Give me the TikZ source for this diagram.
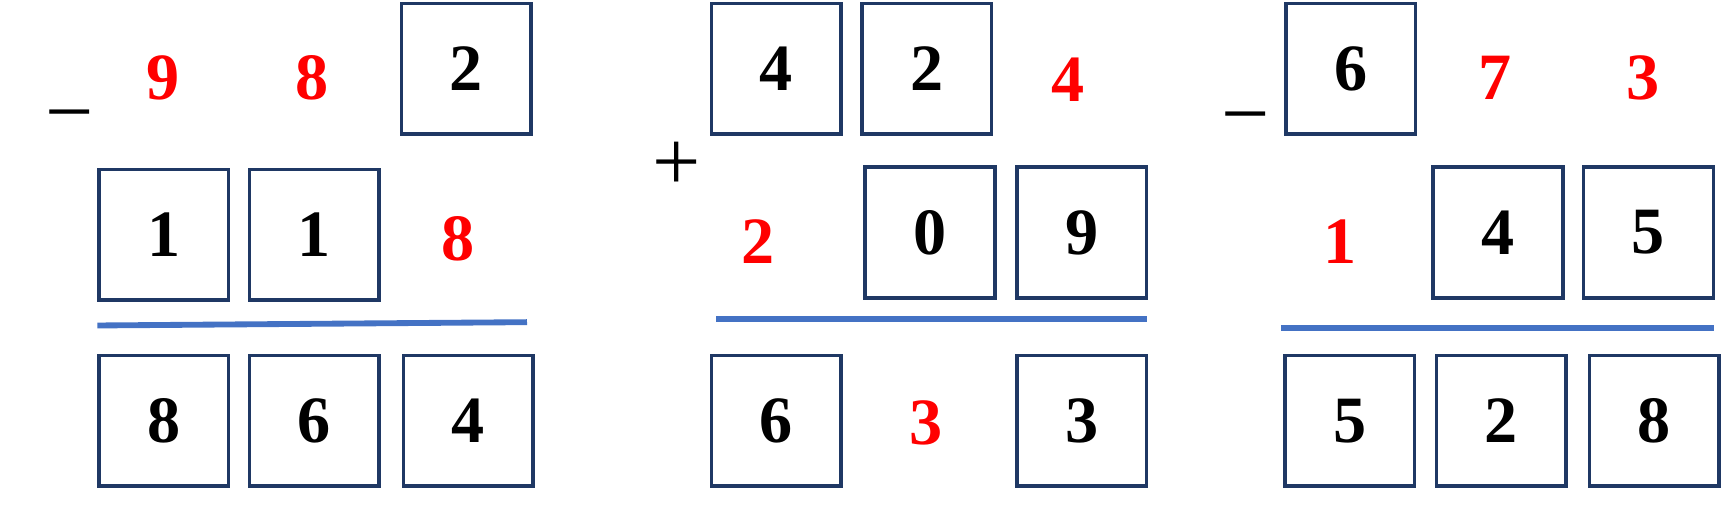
\documentclass[tikz,border=0pt]{standalone}
\usepackage{fontspec}
\setmainfont{Liberation Serif}
\definecolor{navy}{HTML}{1F3864}
\definecolor{bl}{HTML}{4472C4}
\begin{document}
\begin{tikzpicture}[x=0.01cm,y=-0.01cm,
  dbox/.style={draw=navy,line width=0.9pt,minimum width=1.17cm,minimum height=1.18cm,inner sep=0pt,font=\fontsize{17}{17}\selectfont\bfseries},
  rd/.style={text=red,font=\fontsize{17}{17}\selectfont\bfseries},
  sgn/.style={font=\fontsize{22}{22}\selectfont},
  bar/.style={draw=bl,line width=1.5pt}]
\useasboundingbox (0,0) rectangle (1568,474);
% group 1
\node[sgn] (m1) at (63,113) {\textminus};
\node[rd] (a1) at (147,70) {9};
\node[rd] (a2) at (282,70) {8};
\node[dbox] (a3) at (421,62) {2};
\node[dbox] (b1) at (148,212) {1};
\node[dbox] (b2) at (284,212) {1};
\node[rd] (b3) at (414,216) {8};
\coordinate (l1a) at (88,294); \coordinate (l1b) at (476,291);
\draw[bar] (l1a) -- (l1b);
\node[dbox] (c1) at (148,380) {8};
\node[dbox] (c2) at (284,380) {6};
\node[dbox] (c3) at (423,380) {4};
% group 2
\node[sgn] (p2) at (611,150) {+};
\node[dbox] (d1) at (701,62) {4};
\node[dbox] (d2) at (837,62) {2};
\node[rd] (d3) at (965,72) {4};
\node[rd] (e1) at (685,218) {2};
\node[dbox] (e2) at (840,210) {0};
\node[dbox] (e3) at (977,210) {9};
\coordinate (l2a) at (647,288); \coordinate (l2b) at (1036,288);
\draw[bar] (l2a) -- (l2b);
\node[dbox] (f1) at (701,380) {6};
\node[rd] (f2) at (836,382) {3};
\node[dbox] (f3) at (977,380) {3};
% group 3
\node[sgn] (m3) at (1125,115) {\textminus};
\node[dbox] (g1) at (1220,62) {6};
\node[rd] (g2) at (1350,70) {7};
\node[rd] (g3) at (1484,70) {3};
\node[rd] (h1) at (1210,218) {1};
\node[dbox] (h2) at (1353,210) {4};
\node[dbox] (h3) at (1489,210) {5};
\coordinate (l3a) at (1157,296); \coordinate (l3b) at (1548,296);
\draw[bar] (l3a) -- (l3b);
\node[dbox] (k1) at (1219,380) {5};
\node[dbox] (k2) at (1356,380) {2};
\node[dbox] (k3) at (1494,380) {8};
\end{tikzpicture}
\end{document}
